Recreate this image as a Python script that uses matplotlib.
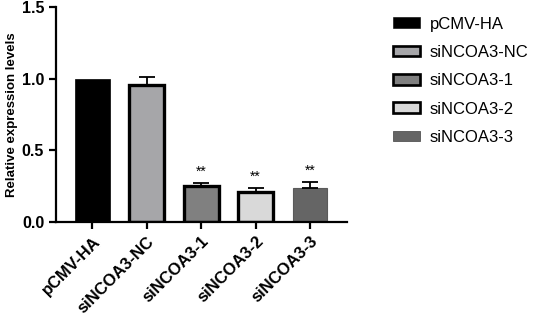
import matplotlib
matplotlib.use('Agg')
import matplotlib.pyplot as plt
from matplotlib.patches import Patch

#  ------- Data -------  #
groups = ['pCMV-HA', 'siNCOA3-NC', 'siNCOA3-1', 'siNCOA3-2', 'siNCOA3-3']
means = [1.0, 0.96, 0.25, 0.21, 0.24]
errs = [0.0, 0.05, 0.022, 0.028, 0.04]
marks = ['', '', '**', '**', '**']
fills = ['#000000', '#a6a6a9', '#808080', '#d9d9d9', '#656565']
edges = ['#000000', '#000000', '#000000', '#000000', '#5a5a5a']
edge_w = [0.5, 2.4, 2.4, 2.4, 0.8]

plt.rcParams['font.family'] = ['Liberation Sans', 'DejaVu Sans']

fig = plt.figure(figsize=(5.36, 3.17), dpi=100)
ax = fig.add_axes([0.1045, 0.30, 0.543, 0.677])

x = list(range(len(groups)))
ax.bar(x, means, width=0.64, color=fills, edgecolor=edges, linewidth=edge_w, zorder=2)
for i in x:
    if errs[i] > 0:
        ax.errorbar(i, means[i], yerr=[[0], [errs[i]]], fmt='none', ecolor='black',
                    elinewidth=1.3, capsize=6, capthick=1.3, zorder=3)
    if marks[i]:
        ax.text(i, means[i] + errs[i] + 0.03, marks[i], ha='center', va='bottom',
                fontsize=10)

ax.set_xlim(-0.67, 4.68)
ax.set_ylim(0, 1.5)
ax.set_yticks([0.0, 0.5, 1.0, 1.5])
ax.set_yticklabels(['0.0', '0.5', '1.0', '1.5'], fontsize=11.5, fontweight='bold')
ax.set_xticks(x)
ax.set_xticklabels(groups, rotation=45, ha='right', rotation_mode='anchor',
                   fontsize=12, fontweight='bold')
ax.set_ylabel('Relative expression levels', fontsize=9.5, fontweight='bold', labelpad=3)
ax.spines['top'].set_visible(False)
ax.spines['right'].set_visible(False)
for s in ['left', 'bottom']:
    ax.spines[s].set_linewidth(1.6)
ax.tick_params(width=1.6, length=5)

handles = [Patch(facecolor=fills[i], edgecolor=edges[i], linewidth=edge_w[i] * 0.8)
           for i in x]
fig.legend(handles, groups, loc='upper left', bbox_to_anchor=(0.705, 0.995),
           frameon=False, fontsize=12, handlelength=1.6, handleheight=0.6,
           labelspacing=0.8, handletextpad=0.6)

fig.savefig('out.png', dpi=100)
